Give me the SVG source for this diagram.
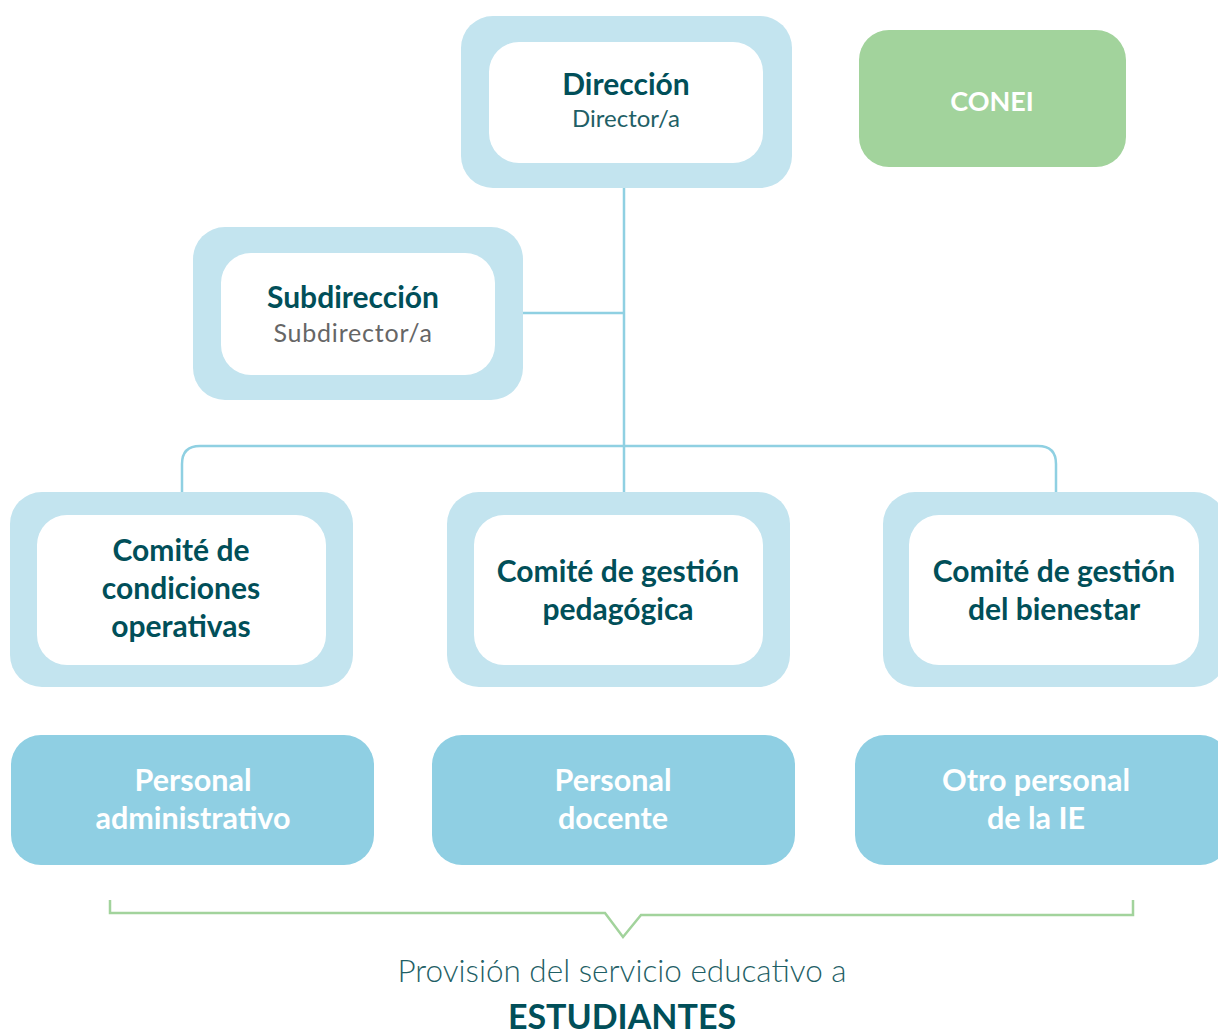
<svg xmlns="http://www.w3.org/2000/svg" width="1218" height="1034" viewBox="0 0 1218 1034">
<style>
.outer{fill:#C3E4EF}
.inner{fill:#FFFFFF}
.pers{fill:#8FCFE3}
.conn{fill:none;stroke:#8FD0E2;stroke-width:2.5}
.br{fill:none;stroke:#A2D39C;stroke-width:2.5}
text{font-family:Lato,"Open Sans","Liberation Sans",sans-serif;text-anchor:middle}
.h{font-weight:bold;fill:#014F59;font-size:30px}
.sub{fill:#1F5F66;font-size:24px}
.gray{fill:#666666;font-size:25px;letter-spacing:0.8px}
.w{font-weight:bold;fill:#FFFFFF;font-size:30.5px}
</style>
<rect width="1218" height="1034" fill="#FFFFFF"/>
<g id="connectors">
<line class="conn" x1="624" y1="188" x2="624" y2="492"/>
<line class="conn" x1="523" y1="313" x2="624" y2="313"/>
<path class="conn" d="M182,492 V464 Q182,446 200,446 H1038 Q1056,446 1056,464 V492"/>
</g>
<g id="direccion">
<rect class="outer" x="461" y="16" width="331" height="172" rx="32"/>
<rect class="inner" x="489" y="42" width="274" height="121" rx="30"/>
<text class="h" x="626" y="95">Dirección</text>
<text class="sub" x="626" y="127">Director/a</text>
</g>
<g id="conei">
<rect x="859" y="30" width="267" height="137" rx="30" fill="#A2D39C"/>
<text x="992" y="111" font-size="27" font-weight="bold" fill="#FFFFFF">CONEI</text>
</g>
<g id="subdireccion">
<rect class="outer" x="193" y="227" width="330" height="173" rx="32"/>
<rect class="inner" x="221" y="253" width="274" height="122" rx="30"/>
<text class="h" x="353" y="308">Subdirección</text>
<text class="gray" x="353" y="342">Subdirector/a</text>
</g>
<g id="comite-condiciones">
<rect class="outer" x="10" y="492" width="343" height="195" rx="32"/>
<rect class="inner" x="37" y="515" width="289" height="150" rx="30"/>
<text class="h" x="181" y="561">Comité de</text>
<text class="h" x="181" y="599">condiciones</text>
<text class="h" x="181" y="637">operativas</text>
</g>
<g id="comite-pedagogica">
<rect class="outer" x="447" y="492" width="343" height="195" rx="32"/>
<rect class="inner" x="474" y="515" width="289" height="150" rx="30"/>
<text class="h" x="618" y="582">Comité de gestión</text>
<text class="h" x="618" y="620">pedagógica</text>
</g>
<g id="comite-bienestar">
<rect class="outer" x="883" y="492" width="343" height="195" rx="32"/>
<rect class="inner" x="909" y="515" width="290" height="150" rx="30"/>
<text class="h" x="1054" y="582">Comité de gestión</text>
<text class="h" x="1054" y="620">del bienestar</text>
</g>
<g id="personal-administrativo">
<rect class="pers" x="11" y="735" width="363" height="130" rx="30"/>
<text class="w" x="193" y="791">Personal</text>
<text class="w" x="193" y="829">administrativo</text>
</g>
<g id="personal-docente">
<rect class="pers" x="432" y="735" width="363" height="130" rx="30"/>
<text class="w" x="613" y="791">Personal</text>
<text class="w" x="613" y="829">docente</text>
</g>
<g id="otro-personal">
<rect class="pers" x="855" y="735" width="375" height="130" rx="30"/>
<text class="w" x="1036" y="791">Otro personal</text>
<text class="w" x="1036" y="829">de la IE</text>
</g>
<g id="estudiantes">
<path class="br" d="M110,900 V913 H605 L623,937 L641,915 H1133 V900"/>
<text x="622" y="982" font-size="31.5" font-weight="300" fill="#1F5F66">Provisión del servicio educativo a</text>
<text x="622" y="1029" font-size="34" font-weight="bold" fill="#014F59">ESTUDIANTES</text>
</g>
</svg>
